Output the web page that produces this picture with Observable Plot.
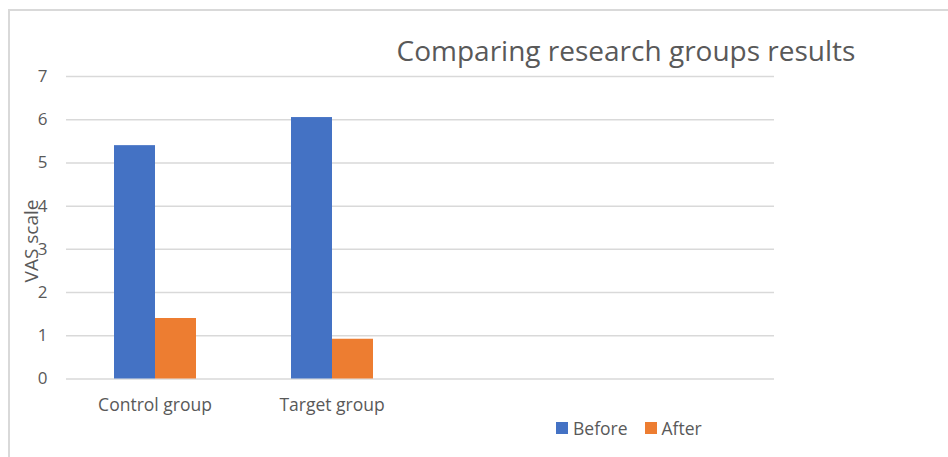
<!DOCTYPE html>
<html>
<head>
<meta charset="utf-8">
<script src="https://cdn.jsdelivr.net/npm/d3@7"></script>
<script src="https://cdn.jsdelivr.net/npm/@observablehq/plot@0.6"></script>
<style>
  html, body { margin: 0; padding: 0; background: #fff; }
  #wrap { position: relative; width: 948px; height: 457px; overflow: hidden; font-family: "Open Sans", sans-serif; color: #595959; }
  #frame { position: absolute; left: 8px; top: 9px; width: 1000px; height: 500px; border: 2px solid #d9d9d9; box-sizing: border-box; }
  #chart { position: absolute; left: 0; top: 0; }
  #title { position: absolute; left: 326px; width: 600px; top: 32px; text-align: center; font-size: 28px; line-height: 36px; white-space: nowrap; }
  #ylabel { position: absolute; left: 31px; top: 241px; transform: translate(-50%, -50%) rotate(-90deg); font-size: 19px; line-height: 22px; white-space: nowrap; }
  #legend { position: absolute; left: 556px; top: 416px; display: flex; align-items: center; font-size: 17.5px; line-height: 24px; }
  .sw { width: 12px; height: 12px; display: inline-block; margin-right: 5px; }
  .item { display: flex; align-items: center; margin-right: 17px; }
</style>
</head>
<body>
<div id="wrap">
  <div id="frame"></div>
  <div id="chart"></div>
  <div id="title"></div>
  <div id="ylabel"></div>
  <div id="legend"></div>
</div>
<script>
const titleText = "Comparing research groups results";
const yLabel = "VAS scale";
const categories = ["Control group", "Target group", "", " "];
const groups = ["Control group", "Target group"];
const series = ["Before", "After"];
const colors = ["#4472C4", "#ED7D31"];
const beforeValues = [5.4, 6.05];
const afterValues = [1.4, 0.92];
const yTicks = [0, 1, 2, 3, 4, 5, 6, 7];

const data = [];
groups.forEach((g, i) => {
  data.push({group: g, series: "Before", value: beforeValues[i]});
  data.push({group: g, series: "After", value: afterValues[i]});
});
const gridData = categories.flatMap(c => yTicks.map(v => ({group: c, value: v})));

const plot = Plot.plot({
  width: 948,
  height: 457,
  marginTop: 76,
  marginBottom: 78.5,
  marginLeft: 65,
  marginRight: 173,
  style: {fontFamily: "Open Sans, sans-serif", fontSize: "17px", color: "#595959", background: "transparent"},
  fx: {domain: categories, padding: 0, label: null, axis: null},
  x: {domain: series, paddingInner: 0, paddingOuter: 1.12, axis: null},
  y: {domain: [0, 7], ticks: yTicks, axis: null},
  color: {domain: series, range: colors},
  marks: [
    Plot.ruleY(gridData, {fx: "group", y: "value", stroke: "#d9d9d9", strokeWidth: 1.5}),
    Plot.barY(data, {fx: "group", x: "series", y: "value", fill: "series", inset: 0}),
    Plot.axisY({ticks: yTicks, tickFormat: d3.format("d"), tickSize: 0, tickPadding: 19, label: null, fontSize: 17}),
    Plot.axisFx({anchor: "bottom", tickSize: 0, tickPadding: 20, label: null, fontSize: 17.5})
  ]
});
document.getElementById("chart").appendChild(plot);

document.getElementById("title").textContent = titleText;
document.getElementById("ylabel").textContent = yLabel;
const legend = document.getElementById("legend");
series.forEach((s, i) => {
  const item = document.createElement("div");
  item.className = "item";
  const sw = document.createElement("span");
  sw.className = "sw";
  sw.style.background = colors[i];
  const t = document.createElement("span");
  t.textContent = s;
  item.appendChild(sw);
  item.appendChild(t);
  legend.appendChild(item);
});
</script>
</body>
</html>
